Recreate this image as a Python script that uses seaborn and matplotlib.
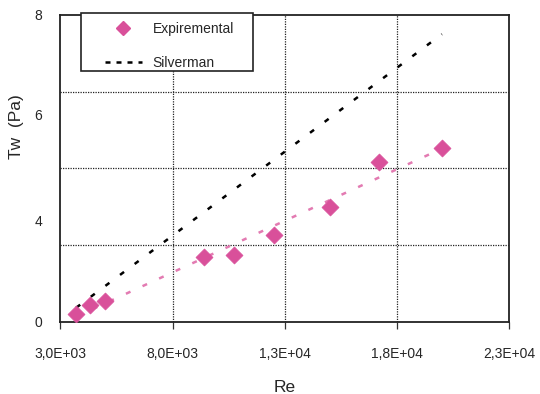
import numpy as np
import pandas as pd
import seaborn as sns
import matplotlib
matplotlib.use("Agg")
import matplotlib.pyplot as plt
from matplotlib.lines import Line2D
from matplotlib.patches import Rectangle

# ---- data ----
re_exp = [3700, 4300, 5000, 9400, 10750, 12500, 15000, 17200, 20000]
tw_exp = [0.20, 0.44, 0.54, 1.68, 1.74, 2.27, 3.00, 4.17, 4.54]

re_silverman = [3700, 20000]
tw_silverman = [0.37, 7.50]

x_ticks = [3000, 8000, 13000, 18000, 23000]
x_tick_labels = ["3,0E+03", "8,0E+03", "1,3E+04", "1,8E+04", "2,3E+04"]
y_grid = [2, 4, 6]
y_label_pos = [0, 2.65, 5.4, 8]
y_tick_labels = ["0", "4", "6", "8"]

exp_df = pd.DataFrame({"Re": re_exp, "Tw": tw_exp})
sil_df = pd.DataFrame({"Re": re_silverman, "Tw": tw_silverman})

sns.set_theme(style="white")
plt.rcParams["font.family"] = ["Liberation Sans", "DejaVu Sans"]

pink = "#d9509a"
pink_line = "#e37bb2"

fig = plt.figure(figsize=(5.4, 3.94), dpi=100)
ax = fig.add_axes([0.112, 0.183, 0.831, 0.779])

# grid
for g in y_grid:
    ax.axhline(g, color="#222222", lw=0.9, ls=(0, (1, 1)), zorder=0)
for g in x_ticks[1:-1]:
    ax.axvline(g, color="#222222", lw=0.9, ls=(0, (1, 1)), zorder=0)

# Silverman line
sns.lineplot(data=sil_df, x="Re", y="Tw", ax=ax, color="black",
             lw=1.8, dashes=False, zorder=2)
ax.lines[-1].set_dashes((2.0, 5.3))

# trend line of experimental data
sns.regplot(data=exp_df, x="Re", y="Tw", ax=ax, scatter=False, ci=None,
            truncate=True,
            line_kws=dict(color=pink_line, lw=1.8, zorder=2))
ax.lines[-1].set_dashes((2.0, 5.3))

# experimental points
sns.scatterplot(data=exp_df, x="Re", y="Tw", ax=ax, marker="D", s=75,
                color=pink, edgecolor=pink, linewidth=0.5, zorder=3)

ax.set_xlim(3000, 23000)
ax.set_ylim(0, 8)
ax.set_xticks(x_ticks)
ax.set_xticklabels(x_tick_labels, fontsize=10)
ax.set_yticks(y_label_pos)
ax.set_yticklabels(y_tick_labels, fontsize=10)
ax.tick_params(axis="x", length=5, width=0.9, color="#333333", pad=13, direction="out", bottom=True)
ax.tick_params(axis="y", length=0, pad=13, left=False)
for t in ax.xaxis.get_major_ticks():
    t.tick1line.set_linestyle((0, (1, 1)))

ax.set_xlabel("Re", fontsize=12.5, labelpad=14)
ax.set_ylabel("Tw  (Pa)", fontsize=12.5)
ax.yaxis.set_label_coords(-0.082, 0.635)

for sp in ax.spines.values():
    sp.set_visible(True)
    sp.set_color("#222222")
    sp.set_linewidth(1.3)

# legend (frame drawn as a rectangle for asymmetric padding)
handles = [
    Line2D([], [], marker="D", color=pink, ls="none", markersize=7.5),
    Line2D([], [], color="black", lw=1.8, dashes=(2.0, 2.4)),
]
leg = ax.legend(handles, ["Expiremental", "Silverman"], loc="upper left",
                bbox_to_anchor=(0.099, 0.977), borderaxespad=0,
                fontsize=10, frameon=False, handlelength=2.65,
                handletextpad=0.8, labelspacing=1.45, borderpad=0)
ax.add_patch(Rectangle((0.045, 0.818), 0.384, 0.189, transform=ax.transAxes,
                       fill=True, facecolor="white", edgecolor="#222222",
                       lw=1.2, clip_on=False, zorder=4))
leg.set_zorder(5)

fig.savefig("out.png", dpi=100, facecolor="white")
